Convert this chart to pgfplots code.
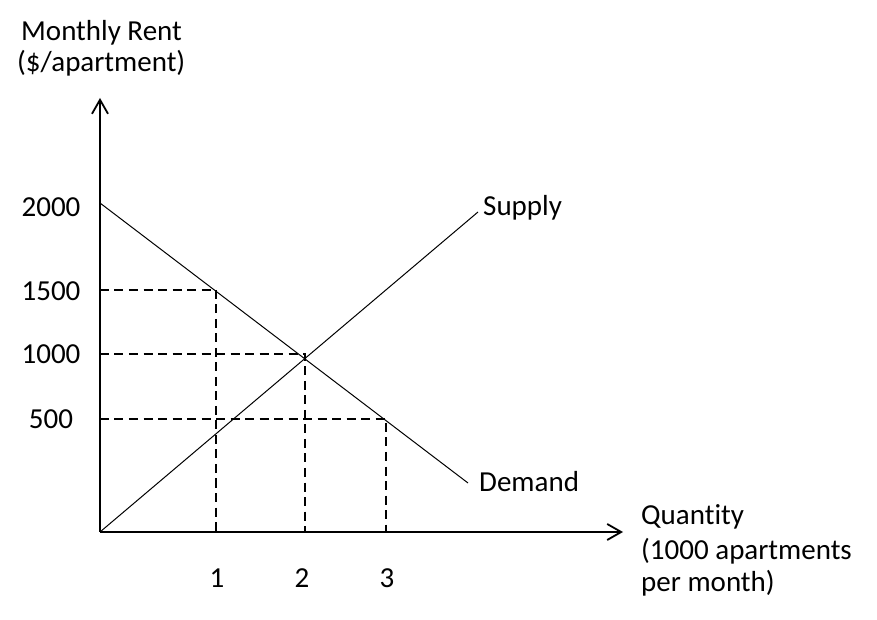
\documentclass[border=0pt]{standalone}
\usepackage{fontspec}
\setmainfont{Carlito}[RawFeature=-liga]
\usepackage{pgfplots}
\pgfplotsset{compat=1.18}
\usetikzlibrary{arrows.meta}
\begin{document}
\fontsize{29bp}{33bp}\selectfont
\begin{tikzpicture}
\begin{axis}[
  x=1bp, y=1bp,
  xmin=0, xmax=523, ymin=0, ymax=434,
  axis lines=left,
  x axis line style={line width=1.8bp, -{Straight Barb[length=14bp,width=16bp,line width=1.8bp]}},
  y axis line style={line width=1.8bp, -{Straight Barb[length=14bp,width=16bp,line width=1.8bp]}},
  clip=false,
  xtick={117,202,287}, xticklabels={1,2,3},
  ytick={113,178,241,325}, yticklabels={500,1000,1500,2000},
  major tick length=0pt,
  /pgf/number format/assume math mode=true,
  xticklabel style={anchor=center, yshift=-46bp, inner sep=0pt},
  yticklabel style={anchor=center, xshift=-49bp, inner sep=0pt},
]
% Demand and supply
\addplot[black, line width=1bp] coordinates {(0,329) (368,49)};
\addplot[black, line width=1bp] coordinates {(0,0) (378,320)};
% dashed guides
\addplot[black, line width=2bp, dash pattern=on 9bp off 5.5bp] coordinates {(0,242) (116,242) (116,0)};
\addplot[black, line width=2bp, dash pattern=on 9bp off 5.5bp] coordinates {(0,178) (205,178) (205,0)};
\addplot[black, line width=2bp, dash pattern=on 9bp off 5.5bp] coordinates {(0,113) (286,113) (286,0)};
% labels
\node[anchor=base west, inner sep=0pt] at (axis cs:383,316) {Supply};
\node[anchor=base west, inner sep=0pt] at (axis cs:379,40) {Demand};
\node[anchor=base west, inner sep=0pt] at (axis cs:-79,491) {Monthly Rent};
\node[anchor=base west, inner sep=0pt] at (axis cs:-83,460) {(\$/apartment)};
\node[anchor=base west, inner sep=0pt] at (axis cs:541,7) {Quantity};
\node[anchor=base west, inner sep=0pt] at (axis cs:541,-28) {(1000 apartments};
\node[anchor=base west, inner sep=0pt] at (axis cs:541,-60) {per month)};
\coordinate (bl) at (axis cs:-100,-88);
\coordinate (tr) at (axis cs:777,532);
\end{axis}
\pgfresetboundingbox
\useasboundingbox (bl) rectangle (tr);
\end{tikzpicture}
\end{document}
